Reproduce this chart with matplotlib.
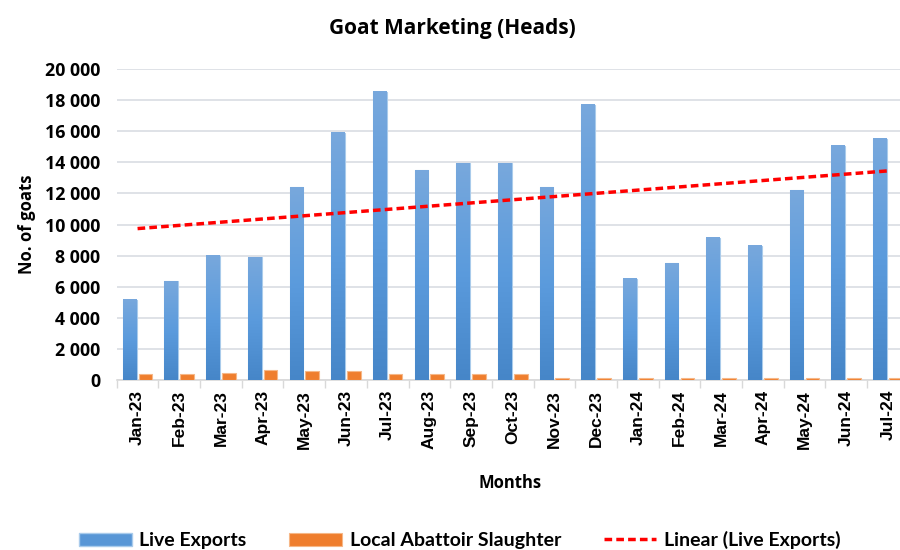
import numpy as np
import matplotlib.pyplot as plt
from matplotlib.colors import LinearSegmentedColormap
from matplotlib.ticker import FuncFormatter, MultipleLocator

plt.rcParams['font.family'] = ['Open Sans', 'DejaVu Sans']
plt.rcParams['font.weight'] = 'bold'

# data
months = ["Jan-23", "Feb-23", "Mar-23", "Apr-23", "May-23", "Jun-23", "Jul-23",
          "Aug-23", "Sep-23", "Oct-23", "Nov-23", "Dec-23", "Jan-24", "Feb-24",
          "Mar-24", "Apr-24", "May-24", "Jun-24", "Jul-24"]
live_exports = [5150, 6350, 8000, 7900, 12400, 15900, 18550, 13500, 13950, 13950,
                12400, 17700, 6500, 7500, 9150, 8650, 12200, 15050, 15500]
abattoir = [400, 400, 470, 650, 580, 580, 400, 400, 400, 400,
            120, 120, 120, 120, 120, 120, 120, 120, 120]

x = np.arange(len(months))
w = 0.33

fig = plt.figure(figsize=(9, 5.5), dpi=100)
ax = fig.add_axes([0.1297, 0.309, 0.88, 0.5655])

b1 = ax.bar(x - 0.19, live_exports, w, color='#5896D6', edgecolor='#A9CBEB',
            linewidth=0.8, label='Live Exports', zorder=3)
b2 = ax.bar(x + 0.19, abattoir, w, color='#EF7E2E', edgecolor='#F6B787',
            linewidth=0.8, label='Local Abattoir Slaughter', zorder=3)

# gradient fill for the blue bars (Excel style)
blue_cm = LinearSegmentedColormap.from_list('bl', ['#4686C8', '#5B9BDD', '#78A8DC'])
grad = np.linspace(0, 1, 256).reshape(-1, 1)
for p in b1.patches:
    x0, y0 = p.get_x(), p.get_y()
    ax.imshow(grad, extent=[x0, x0 + p.get_width(), y0, y0 + p.get_height()],
              origin='lower', aspect='auto', cmap=blue_cm, zorder=3.1)

# linear trend of live exports, like Excel's trendline
k, c = np.polyfit(x, live_exports, 1)
tl, = ax.plot(x, k * x + c, color='#FF0000', linestyle=(0, (2.2, 1.2)),
              linewidth=2.5, label='Linear (Live Exports)', zorder=4)

ax.set_xlim(-0.5, len(months) - 0.5)
ax.set_ylim(0, 20000)
ax.yaxis.set_major_locator(MultipleLocator(2000))
ax.yaxis.set_major_formatter(FuncFormatter(lambda v, p: f"{int(v):,}".replace(",", " ")))
ax.grid(axis='y', color='#D9DDE3', linewidth=1.2, zorder=0)

ax.set_xticks(x)
ax.set_xticklabels(months, rotation=90, family=['Liberation Sans'], fontweight='bold',
                   fontsize=12.5)
ax.set_xticks(np.arange(-0.5, len(months)), minor=True)
ax.tick_params(axis='x', which='major', length=0, pad=7)
ax.tick_params(axis='x', which='minor', length=6, color='#D9D9D9', width=1)
ax.tick_params(axis='y', length=0, pad=12, labelsize=12.8)

for s in ['top', 'right', 'left']:
    ax.spines[s].set_visible(False)
ax.spines['bottom'].set_color('#D9D9D9')
ax.spines['bottom'].set_linewidth(1.2)

ax.set_ylabel('No. of goats', fontsize=12, fontweight='bold', labelpad=6)
fig.text(0.567, 0.122, 'Months', ha='center', va='center', fontsize=12, fontweight='bold')
fig.text(0.503, 0.949, 'Goat Marketing (Heads)', ha='center', va='center',
         fontsize=15, fontweight='bold')

leg_patch1 = plt.Rectangle((0, 0), 1, 1, facecolor='#5896D6', edgecolor='#A9CBEB')
fig.legend(handles=[leg_patch1, b2, tl],
           labels=['Live Exports', 'Local Abattoir Slaughter', 'Linear (Live Exports)'],
           loc='center', bbox_to_anchor=(0.511, 0.018), ncol=3,
           frameon=False, prop={'family': 'Lato', 'weight': 'bold', 'size': 14},
           columnspacing=2.2, handlelength=2.7, handletextpad=0.4)

fig.savefig('out.png', dpi=100)
